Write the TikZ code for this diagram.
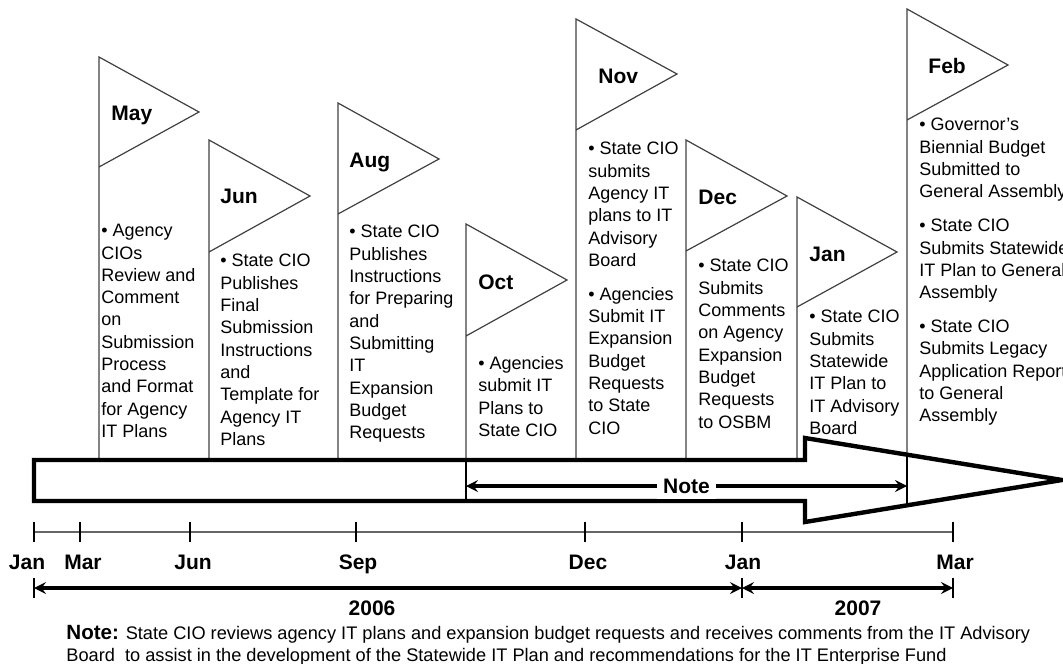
\documentclass[tikz,border=0pt]{standalone}
\usepackage{fontspec}
\setmainfont{Liberation Sans}
\begin{document}
\begin{tikzpicture}[>=stealth, x=0.5pt, y=-0.5pt,
  flag/.style={draw=black!75, line width=0.6pt},
  month/.style={font=\fontsize{10.5}{12}\selectfont\bfseries, inner sep=0pt, anchor=base west},
  desc/.style={font=\fontsize{9}{11.15}\selectfont, inner sep=0pt, anchor=north west, align=left},
  axislbl/.style={font=\fontsize{10.5}{12}\selectfont\bfseries, inner sep=0pt, anchor=base},
  tick/.style={line width=0.6pt},
  bigarrow/.style={line width=2.2pt, line join=miter},
  notebar/.style={line width=1.3pt},
  span/.style={<->, line width=1.6pt}]
\clip (0,0) rectangle (1063,663);
%% flags
\draw[flag] (99,460) -- (99,57) -- (199,112) -- (99,167);
\node[month] (may) at (111,121) {May};
\node[desc] (mayTxt) at (101,224) {• Agency\\CIOs\\Review and\\Comment\\on\\Submission\\Process\\and Format\\for Agency\\IT Plans};
%%
\draw[flag] (209,460) -- (209,140) -- (310,196) -- (209,252);
\node[month] (jun) at (220,204) {Jun};
\node[desc] (junTxt) at (220,254) {• State CIO\\Publishes\\Final\\Submission\\Instructions\\and\\Template for\\Agency IT\\Plans};
%%
\draw[flag] (338,460) -- (338,103) -- (439,159) -- (338,214);
\node[month] (aug) at (349,168) {Aug};
\node[desc] (augTxt) at (349,225) {• State CIO\\Publishes\\Instructions\\for Preparing\\and\\Submitting\\IT\\Expansion\\Budget\\Requests};
%%
\draw[flag] (466,460) -- (466,224) -- (567,280) -- (466,336);
\node[month] (oct) at (478,289) {Oct};
\node[desc] (octTxt) at (478,356) {• Agencies\\submit IT\\Plans to\\State CIO};
%%
\draw[flag] (576,460) -- (576,19) -- (677,74) -- (576,130);
\node[month] (nov) at (598,84) {Nov};
\node[desc] (novTxt) at (588,142) {• State CIO\\submits\\Agency IT\\plans to IT\\Advisory\\Board\\[5.8pt]• Agencies\\Submit IT\\Expansion\\Budget\\Requests\\to State\\CIO};
%%
\draw[flag] (686,460) -- (686,140) -- (787,196) -- (686,251);
\node[month] (dec) at (698,205) {Dec};
\node[desc] (decTxt) at (698,259) {• State CIO\\Submits\\Comments\\on Agency\\Expansion\\Budget\\Requests\\to OSBM};
%%
\draw[flag] (797,460) -- (797,197) -- (897,252) -- (797,307);
\node[month] (jan) at (809,261) {Jan};
\node[desc] (janTxt) at (809,310) {• State CIO\\Submits\\Statewide\\IT Plan to\\IT Advisory\\Board};
%%
\draw[flag] (907,455) -- (907,9) -- (1008,65) -- (907,120);
\node[month] (feb) at (928,74) {Feb};
\node[desc] (febTxt) at (919,118) {• Governor's\\Biennial Budget\\Submitted to\\General Assembly\\[5.8pt]• State CIO\\Submits Statewide\\IT Plan to General\\Assembly\\[5.8pt]• State CIO\\Submits Legacy\\Application Report\\to General\\Assembly};
%% big arrow
\draw[bigarrow] (34,460) -- (805,460) -- (805,438) -- (1062,480) -- (805,522) -- (805,501) -- (34,501) -- cycle;
\draw[notebar] (466,460) -- (466,501);
\draw[notebar] (907,455) -- (907,505);
\coordinate (n0) at (466,486);
\coordinate (n1) at (907,486);
\draw[span] (n0) -- (n1) node[midway, fill=white, inner sep=3pt, font=\fontsize{10.5}{12}\selectfont\bfseries] (note) {Note};
%% axis
\coordinate (a0) at (34,532);
\coordinate (a1) at (953,532);
\draw[black!60, line width=0.6pt] (a0) -- (a1);
\draw[tick] (34,522) -- (34,542);
\draw[tick] (80,522) -- (80,542);
\draw[tick] (190,522) -- (190,542);
\draw[tick] (356,522) -- (356,542);
\draw[tick] (585,522) -- (585,542);
\draw[tick] (742,522) -- (742,542);
\draw[tick] (953,522) -- (953,542);
\node[axislbl] (lJan) at (27,569) {Jan};
\node[axislbl] (lMar) at (83,569) {Mar};
\node[axislbl] (lJun) at (193,569) {Jun};
\node[axislbl] (lSep) at (358,569) {Sep};
\node[axislbl] (lDec) at (588,569) {Dec};
\node[axislbl] (lJan2) at (743,569) {Jan};
\node[axislbl] (lMar2) at (955,569) {Mar};
%% years
\draw[tick] (34,578) -- (34,598);
\draw[tick] (742,578) -- (742,598);
\draw[tick] (953,578) -- (953,598);
\coordinate (y0) at (34,588);
\coordinate (y1) at (742,588);
\coordinate (y2) at (953,588);
\draw[span] (y0) -- (y1);
\draw[span] (y1) -- (y2);
\node[axislbl] (y2006) at (372,615) {2006};
\node[axislbl] (y2007) at (858,615) {2007};
%% note
\node[desc, font=\fontsize{9.1}{11}\selectfont] (noteTxt) at (66,625) {{\fontsize{10.3}{11}\selectfont\bfseries Note:} State CIO reviews agency IT plans and expansion budget requests and receives comments from the IT Advisory\\Board\ \ to assist in the development of the Statewide IT Plan and recommendations for the IT Enterprise Fund};
\end{tikzpicture}
\end{document}
